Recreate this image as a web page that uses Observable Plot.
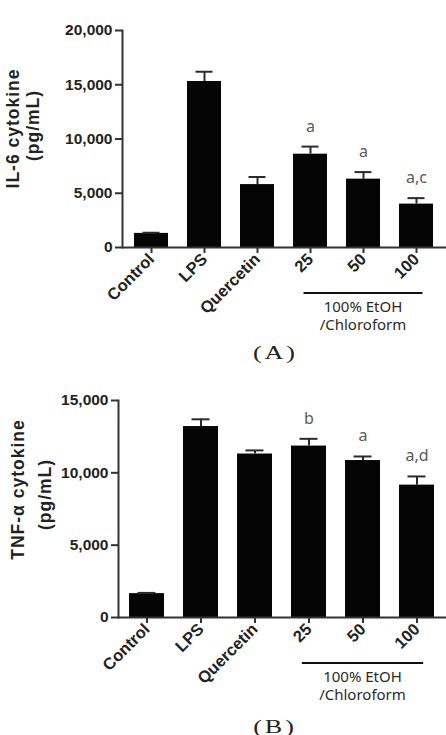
<!DOCTYPE html>
<html>
<head>
<meta charset="utf-8">
<script src="https://cdn.jsdelivr.net/npm/d3@7"></script>
<script src="https://cdn.jsdelivr.net/npm/@observablehq/plot@0.6"></script>
<style>
  html, body { margin: 0; padding: 0; background: #fff; }
  #page { position: relative; width: 446px; height: 735px; overflow: hidden; background: #fff; }
  .panel { position: absolute; left: 0; }
  .caption {
    position: absolute; left: 0; width: 550px; text-align: center;
    font-family: "Liberation Serif", "Times New Roman", serif; font-size: 18px; color: #222;
  }
  .caption span { display: inline-block; letter-spacing: 2px; transform: scaleX(1.45); }
  [aria-label="x-axis tick label"], [aria-label="y-axis tick label"] { font-weight: bold; }
</style>
</head>
<body>
<div id="page">
  <div class="panel" id="panelA" style="top:0"></div>
  <div class="caption" style="top:343px"><span>(A)</span></div>
  <div class="panel" id="panelB" style="top:370px"></div>
  <div class="caption" style="top:717px"><span>(B)</span></div>
</div>
<script>
// Treatment groups (the last three are extract doses in µg/mL)
const categories = ["Control", "LPS", "Quercetin", "25", "50", "100"];
const doseGroup = ["25", "100"];
const doseGroupLabel = ["100% EtOH", "/Chloroform"];

// IL-6 production (pg/mL), mean ± SEM
const il6Mean = [1300, 15300, 5800, 8600, 6300, 4000];
const il6Sem = [60, 900, 700, 700, 650, 550];
const il6Sig = ["", "", "", "a", "a", "a,c"];
const il6Ticks = [0, 5000, 10000, 15000, 20000];
const il6Title = ["IL-6 cytokine", "(pg/mL)"];

// TNF-α production (pg/mL), mean ± SEM
const tnfMean = [1650, 13200, 11300, 11850, 10850, 9150];
const tnfSem = [50, 500, 250, 500, 280, 600];
const tnfSig = ["", "", "", "b", "a", "a,d"];
const tnfTicks = [0, 5000, 10000, 15000];
const tnfTitle = ["TNF-α cytokine", "(pg/mL)"];

function drawPanel({target, height, marginLeft, mean, sem, sig, ticks, title, titleX, titleDy}) {
  const rows = categories.map((c, i) => ({cat: c, mean: mean[i], sem: sem[i], sig: sig[i]}));
  const top = d => d.mean + d.sem;
  const plot = Plot.plot({
    width: 446,
    height,
    marginTop: 30,
    marginBottom: height - 247,
    marginLeft,
    marginRight: 0,
    style: {fontFamily: "'Liberation Sans', Arial, sans-serif", background: "#fff", color: "#222"},
    x: {domain: categories, paddingInner: 0.35, paddingOuter: 0.184},
    y: {domain: [0, ticks[ticks.length - 1]]},
    marks: [
      Plot.barY(rows, {x: "cat", y: "mean", fill: "#050505"}),
      Plot.ruleX(rows, {x: "cat", y1: "mean", y2: top, stroke: "#2a2a2a", strokeWidth: 2}),
      Plot.tickY(rows, {x: "cat", y: top, stroke: "#2a2a2a", strokeWidth: 2, insetLeft: 8.5, insetRight: 8.5}),
      Plot.text(rows, {
        x: "cat", y: top, text: "sig", dy: -15, lineAnchor: "bottom",
        fontFamily: "'Noto Sans', sans-serif", fontSize: 16, fill: "#5a5a5a"
      }),
      Plot.axisY({
        ticks, tickFormat: d3.format(","), tickSize: 7, tickPadding: 3,
        fontSize: 15.5, fontWeight: "bold", stroke: "#333", strokeWidth: 2, label: null
      }),
      Plot.axisX({
        tickSize: 6, tickPadding: 3, tickRotate: -45,
        fontSize: 16.5, fontWeight: "bold", stroke: "#333", strokeWidth: 2, label: null
      }),
      Plot.frame({anchor: "left", stroke: "#333", strokeWidth: 2}),
      Plot.ruleY([0], {stroke: "#333", strokeWidth: 2})
    ]
  });

  const svg = d3.select(plot);
  const x = plot.scale("x");
  const y = plot.scale("y");
  const bw = x.bandwidth;
  const base = y.apply(0);
  const yMid = (y.apply(0) + y.apply(ticks[ticks.length - 1])) / 2;

  // Bracket under the extract doses
  svg.append("line")
    .attr("x1", x.apply(doseGroup[0]) + bw * 0.31)
    .attr("x2", x.apply(doseGroup[1]) + bw * 0.69)
    .attr("y1", base + 46).attr("y2", base + 46)
    .attr("stroke", "#111").attr("stroke-width", 2);
  const mid = (x.apply(doseGroup[0]) + x.apply(doseGroup[1]) + bw) / 2;
  svg.append("g")
    .attr("font-family", "'Noto Sans', sans-serif")
    .attr("font-size", 15)
    .attr("fill", "#2a2a2a")
    .attr("text-anchor", "middle")
    .selectAll("text").data(doseGroupLabel).join("text")
    .attr("x", mid)
    .attr("y", (d, i) => base + 65 + i * 17.5)
    .text(d => d);

  // Two-line vertical axis title
  svg.append("g")
    .attr("font-family", "'Liberation Sans', Arial, sans-serif")
    .attr("font-weight", "bold")
    .attr("font-size", 17.5)
    .attr("letter-spacing", 1)
    .attr("fill", "#222")
    .attr("text-anchor", "middle")
    .attr("dominant-baseline", "central")
    .selectAll("text").data(title).join("text")
    .attr("transform", (d, i) => `translate(${titleX[i]},${yMid + titleDy[i]}) rotate(-90)`)
    .text(d => d);

  document.getElementById(target).append(plot);
}

drawPanel({
  target: "panelA", height: 340, marginLeft: 122,
  mean: il6Mean, sem: il6Sem, sig: il6Sig, ticks: il6Ticks, title: il6Title,
  titleX: [13, 33], titleDy: [-10, -13]
});
drawPanel({
  target: "panelB", height: 365, marginLeft: 118,
  mean: tnfMean, sem: tnfSem, sig: tnfSig, ticks: tnfTicks, title: tnfTitle,
  titleX: [18, 45], titleDy: [-19, -14]
});
</script>
</body>
</html>
